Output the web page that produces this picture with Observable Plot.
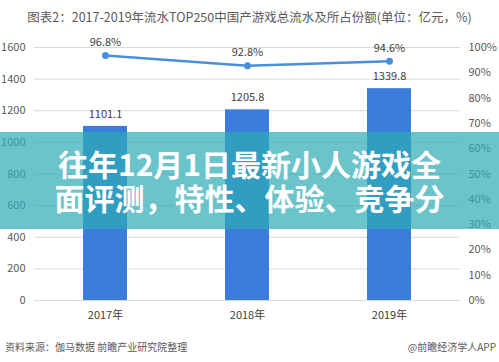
<!DOCTYPE html>
<html><head><meta charset="utf-8">
<script src="https://cdn.jsdelivr.net/npm/d3@7"></script>
<script src="https://cdn.jsdelivr.net/npm/@observablehq/plot@0.6"></script>
<style>
body{margin:0;background:#fff;font-family:"Noto Sans CJK SC","Noto Sans",sans-serif;}
#wrap{position:relative;width:499px;height:362px;overflow:hidden;background:#fff;}
#title{position:absolute;left:0;top:7px;width:499px;text-align:center;font-size:12.5px;color:#595959;white-space:nowrap;}
#src{position:absolute;left:5px;top:339px;font-size:10px;color:#595959;white-space:nowrap;}
#app{position:absolute;right:3px;top:339px;font-size:10px;color:#595959;white-space:nowrap;}
#banner{position:absolute;left:0;top:132px;width:499px;height:97px;background:rgba(45,171,181,0.7);}
#banner div{position:absolute;left:0;width:499px;text-align:center;color:#fff;font-weight:bold;font-size:30px;line-height:34px;white-space:nowrap;}
#chart{position:absolute;left:0;top:0;}
</style></head>
<body><div id="wrap">
<div id="chart"></div>
<div id="title"></div>
<div id="src"></div>
<div id="app"></div>
<div id="banner"><div id="l1" style="top:14px"></div><div id="l2" style="top:48px"></div></div>
</div>
<script>
const titleText = "图表2：2017-2019年流水TOP250中国产游戏总流水及所占份额(单位：亿元，%)";
const sourceText = "资料来源：伽马数据 前瞻产业研究院整理";
const appText = "@前瞻经济学人APP";
const bannerLines = ["往年12月1日最新小人游戏全", "面评测，特性、体验、竞争分"];
const years = ["2017年", "2018年", "2019年"];
const revenue = [1101.1, 1205.8, 1339.8];
const share = [96.8, 92.8, 94.6];
const leftTicks = [0, 200, 400, 600, 800, 1000, 1200, 1400, 1600];
const rightTicks = [0, 10, 20, 30, 40, 50, 60, 70, 80, 90, 100];

const k = 16; // 100% maps onto 1600 on the shared y scale
const rows = years.map((y, i) => ({year: y, rev: revenue[i], pct: share[i], pctY: share[i] * k}));

const chart = Plot.plot({
  width: 499, height: 362,
  marginTop: 47, marginBottom: 62, marginLeft: 34, marginRight: 39,
  style: {fontFamily: "'Noto Sans CJK SC','Noto Sans',sans-serif", fontSize: "11px", color: "#404040", background: "transparent"},
  x: {domain: years, paddingInner: 0.69, paddingOuter: 0.345, label: null},
  y: {domain: [0, 1600], label: null},
  marks: [
    Plot.gridY(leftTicks, {stroke: "#d9d9d9", strokeOpacity: 1, strokeWidth: 1}),
    Plot.axisY({ticks: leftTicks, tickFormat: d => String(d), tickSize: 0, tickPadding: 9, label: null, fill: "#595959"}),
    Plot.axisY({anchor: "right", ticks: rightTicks.map(d => d * k), tickFormat: d => (d / k) + "%", tickSize: 0, tickPadding: 8, label: null, fill: "#595959"}),
    Plot.axisX({tickSize: 0, tickPadding: 11, label: null, fill: "#404040"}),
    Plot.barY(rows, {x: "year", y: "rev", fill: "#3b7ddb"}),
    Plot.text(rows, {x: "year", y: "rev", text: d => d.rev.toFixed(1), dy: -12, fill: "#404040", fontSize: 11}),
    Plot.line(rows, {x: "year", y: "pctY", stroke: "#4a90d9", strokeWidth: 2.5}),
    Plot.dot(rows, {x: "year", y: "pctY", r: 3.5, fill: "#4a90d9", stroke: "none"}),
    Plot.text(rows, {x: "year", y: "pctY", text: d => d.pct.toFixed(1) + "%", dy: -13, fill: "#404040", fontSize: 11})
  ]
});
document.getElementById("chart").appendChild(chart);
document.getElementById("title").textContent = titleText;
document.getElementById("src").textContent = sourceText;
document.getElementById("app").textContent = appText;
document.getElementById("l1").textContent = bannerLines[0];
document.getElementById("l2").textContent = bannerLines[1];
</script>
</body></html>
